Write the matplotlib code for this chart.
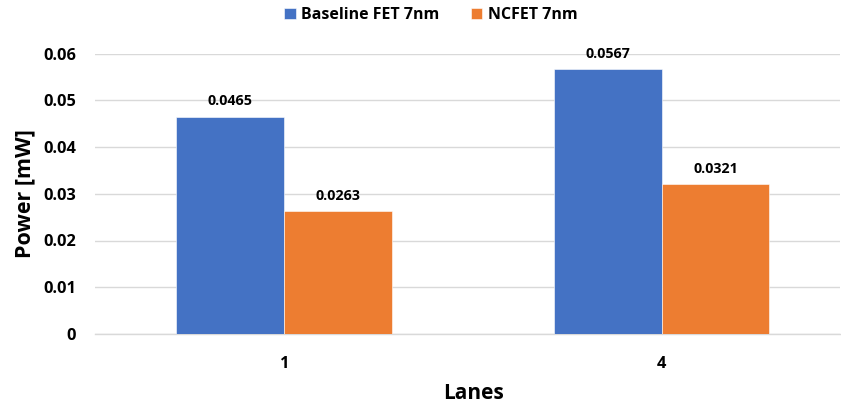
import matplotlib
matplotlib.use("Agg")
import matplotlib.pyplot as plt
import numpy as np

categories = ["1", "4"]
series_names = ["Baseline FET 7nm", "NCFET 7nm"]
baseline_fet = [0.0465, 0.0567]
ncfet = [0.0263, 0.0321]
y_ticks = [0, 0.01, 0.02, 0.03, 0.04, 0.05, 0.06]
y_tick_labels = ["0", "0.01", "0.02", "0.03", "0.04", "0.05", "0.06"]

blue = "#4472C4"
orange = "#ED7D31"
grid = "#D9D9D9"
text_color = "#000000"

plt.rcParams["font.family"] = ["Open Sans", "DejaVu Sans"]
plt.rcParams["font.weight"] = "bold"

W, H = 841, 408
fig = plt.figure(figsize=(W / 100, H / 100), dpi=100)
left, right, top, bottom = 95, 840, 53.5, 334
ax = fig.add_axes([left / W, 1 - bottom / H, (right - left) / W, (bottom - top) / H])

x = np.arange(len(categories))
width = 0.286
b1 = ax.bar(x - width / 2, baseline_fet, width, color=blue, label=series_names[0],
            edgecolor="white", linewidth=0.4, zorder=3)
b2 = ax.bar(x + width / 2, ncfet, width, color=orange, label=series_names[1],
            edgecolor="white", linewidth=0.4, zorder=3)

for bars, vals in ((b1, baseline_fet), (b2, ncfet)):
    for rect, v in zip(bars, vals):
        ax.annotate(f"{v:.4f}", (rect.get_x() + rect.get_width() / 2, v),
                    xytext=(0, 6), textcoords="offset points",
                    ha="center", va="bottom", fontsize=10.3, fontweight="bold",
                    color=text_color)

ax.set_ylim(0, 0.06)
ax.set_xlim(-0.502, 1.473)
ax.set_yticks(y_ticks)
ax.set_yticklabels(y_tick_labels)
ax.set_xticks(x)
ax.set_xticklabels(categories)
ax.yaxis.grid(True, color=grid, linewidth=1, zorder=0)
ax.set_axisbelow(True)
for s in ("top", "right", "left"):
    ax.spines[s].set_visible(False)
ax.spines["bottom"].set_color(grid)
ax.spines["bottom"].set_linewidth(1)
ax.tick_params(axis="both", length=0, labelsize=11.8, colors=text_color)
ax.tick_params(axis="y", pad=13.7)
ax.tick_params(axis="x", pad=15.5)
for lbl in ax.get_xticklabels() + ax.get_yticklabels():
    lbl.set_fontweight("bold")

ax.set_ylabel("Power [mW]", fontsize=15.5, fontweight="bold", color=text_color)
ax.yaxis.set_label_coords((35 - left) / (right - left), 0.5)
ax.set_xlabel("Lanes", fontsize=15, fontweight="bold", color=text_color)
ax.xaxis.set_label_coords((473.5 - left) / (right - left), -(383 - bottom) / (bottom - top))

leg = fig.legend(loc="center", bbox_to_anchor=(431 / W, 1 - 15 / H), ncol=2, frameon=False,
                 fontsize=11.5, handlelength=0.7, handleheight=0.7, handletextpad=0.35,
                 columnspacing=2.0)
for t in leg.get_texts():
    t.set_fontweight("bold")

fig.savefig("out.png", dpi=100)
